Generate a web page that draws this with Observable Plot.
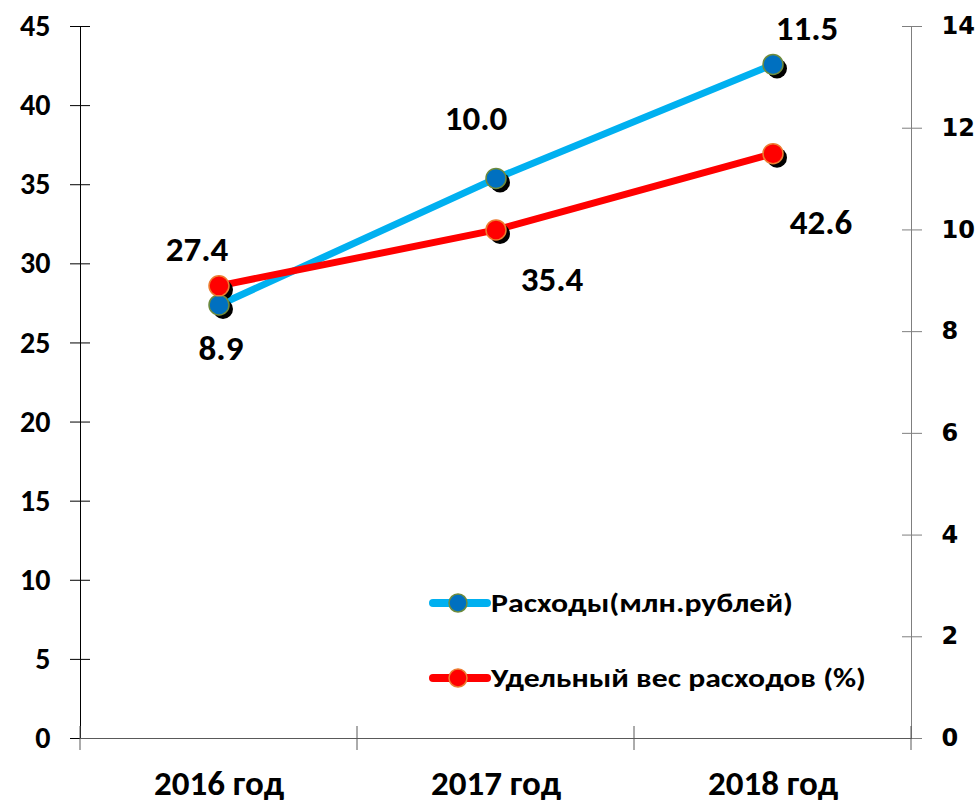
<!DOCTYPE html>
<html><head><meta charset="utf-8">
<script src="https://cdn.jsdelivr.net/npm/d3@7"></script>
<script src="https://cdn.jsdelivr.net/npm/@observablehq/plot@0.6"></script>
<style>body{margin:0;background:#fff} #chart{width:978px;height:803px}</style>
</head><body><div id="chart"></div>
<script>
const years = ["2016 год", "2017 год", "2018 год"];
const expenses = [27.4, 35.4, 42.6];           // Расходы (млн. рублей), left axis
const share = [8.9, 10.0, 11.5];               // Удельный вес расходов (%), right axis
const leftTicks = [0, 5, 10, 15, 20, 25, 30, 35, 40, 45];
const rightTicks = [0, 2, 4, 6, 8, 10, 12, 14];
const seriesNames = ["Расходы(млн.рублей)", "Удельный вес расходов (%)"];
const colors = {blueLine: "#00B0F0", blueDot: "#0070C0", blueEdge: "#6E8B3D", redLine: "#FF0000", redDot: "#FF0000", redEdge: "#ED7D31"};

const K = 45 / 14;
const data = years.map((year, i) => ({year, expenses: expenses[i], share: share[i], shareScaled: share[i] * K}));

const W = 978, H = 803, mL = 80, mR = 67, mT = 26, mB = 65;
const font = "Carlito, Lato, sans-serif";
const lbl = {fontSize: 35, fontWeight: "bold", fontFamily: font, fill: "#000"};

const plot = Plot.plot({
  width: W, height: H,
  marginLeft: mL, marginRight: mR, marginTop: mT, marginBottom: mB,
  style: {background: "#fff", overflow: "visible"},
  x: {type: "band", domain: years, padding: 0, label: null},
  y: {domain: [0, 45], label: null},
  marks: [
    // left axis
    Plot.axisY(leftTicks, {anchor: "left", tickSize: 20, dx: 10, tickFormat: () => "", stroke: "#000", label: null}),
    Plot.axisY(leftTicks, {anchor: "left", tickSize: 0, tickPadding: 30, fontSize: 30, fontWeight: "bold", fontFamily: font, fill: "#000", label: null}),
    // right axis
    Plot.axisY(rightTicks.map(v => v * K), {anchor: "right", tickSize: 20, dx: -10, tickFormat: () => "", stroke: "#7f7f7f", label: null}),
    Plot.axisY(rightTicks.map(v => v * K), {anchor: "right", tickSize: 0, tickPadding: 30, tickFormat: d => String(Math.round(d / K)), fontSize: 24, fontWeight: "bold", fontFamily: "DejaVu Sans", fill: "#000", label: null}),
    // x axis labels
    Plot.axisX({tickSize: 0, tickPadding: 32, fontSize: 35, fontWeight: "bold", fontFamily: font, fill: "#000", label: null}),
    Plot.frame({anchor: "left", stroke: "#000"}),
    Plot.frame({anchor: "right", stroke: "#7f7f7f"}),
    Plot.frame({anchor: "bottom", stroke: "#595959"}),
    // lines
    Plot.line(data, {x: "year", y: "expenses", stroke: colors.blueLine, strokeWidth: 7}),
    Plot.line(data, {x: "year", y: "shareScaled", stroke: colors.redLine, strokeWidth: 7}),
    // shadows
    Plot.dot(data, {x: "year", y: "expenses", r: 10, fill: "#000", dx: 4, dy: 4}),
    Plot.dot(data, {x: "year", y: "shareScaled", r: 10, fill: "#000", dx: 4, dy: 4}),
    // dots
    Plot.dot(data, {x: "year", y: "expenses", r: 10, fill: colors.blueDot, stroke: colors.blueEdge, strokeWidth: 1.5}),
    Plot.dot(data, {x: "year", y: "shareScaled", r: 10, fill: colors.redDot, stroke: colors.redEdge, strokeWidth: 1.5}),
    // data labels (placed as in the original)
    Plot.text([data[0]], {x: "year", y: "shareScaled", text: d => d.expenses.toFixed(1), dx: -22, dy: -36, ...lbl}),
    Plot.text([data[0]], {x: "year", y: "expenses", text: d => d.share.toFixed(1), dx: 2, dy: 44, ...lbl}),
    Plot.text([data[1]], {x: "year", y: "expenses", text: d => d.share.toFixed(1), dx: -20, dy: -60, ...lbl}),
    Plot.text([data[1]], {x: "year", y: "shareScaled", text: d => d.expenses.toFixed(1), dx: 56, dy: 50, ...lbl}),
    Plot.text([data[2]], {x: "year", y: "expenses", text: d => d.share.toFixed(1), dx: 34, dy: -36, ...lbl}),
    Plot.text([data[2]], {x: "year", y: "shareScaled", text: d => d.expenses.toFixed(1), dx: 48, dy: 69, ...lbl})
  ]
});

document.getElementById("chart").appendChild(plot);

// category boundary ticks on the x axis
const svg = d3.select(plot);
const xb = d3.scaleBand().domain(years).range([mL, W - mR]).padding(0);
const bounds = years.map(y => xb(y)).concat([W - mR]);
const y0 = H - mB;
svg.append("g").selectAll("line").data(bounds).join("line")
  .attr("x1", d => d).attr("x2", d => d).attr("y1", y0 - 12).attr("y2", y0 + 12)
  .attr("stroke", "#595959").attr("stroke-width", 1);

// legend
const leg = svg.append("g");
const items = [
  {name: seriesNames[0], line: colors.blueLine, dot: colors.blueDot, edge: colors.blueEdge, y: 603, len: 302},
  {name: seriesNames[1], line: colors.redLine, dot: colors.redDot, edge: colors.redEdge, y: 678, len: 375}
];
items.forEach(it => {
  leg.append("line").attr("x1", 433).attr("x2", 487).attr("y1", it.y).attr("y2", it.y)
    .attr("stroke", it.line).attr("stroke-width", 8).attr("stroke-linecap", "round");
  leg.append("circle").attr("cx", 458).attr("cy", it.y).attr("r", 9)
    .attr("fill", it.dot).attr("stroke", it.edge).attr("stroke-width", 1.5);
  leg.append("text").attr("x", 491).attr("y", it.y).attr("dy", "0.35em")
    .attr("text-anchor", "start")
    .attr("font-family", font).attr("font-weight", "bold").attr("font-size", 27)
    .attr("textLength", it.len).attr("lengthAdjust", "spacingAndGlyphs")
    .attr("fill", "#000").text(it.name);
});
</script></body></html>
